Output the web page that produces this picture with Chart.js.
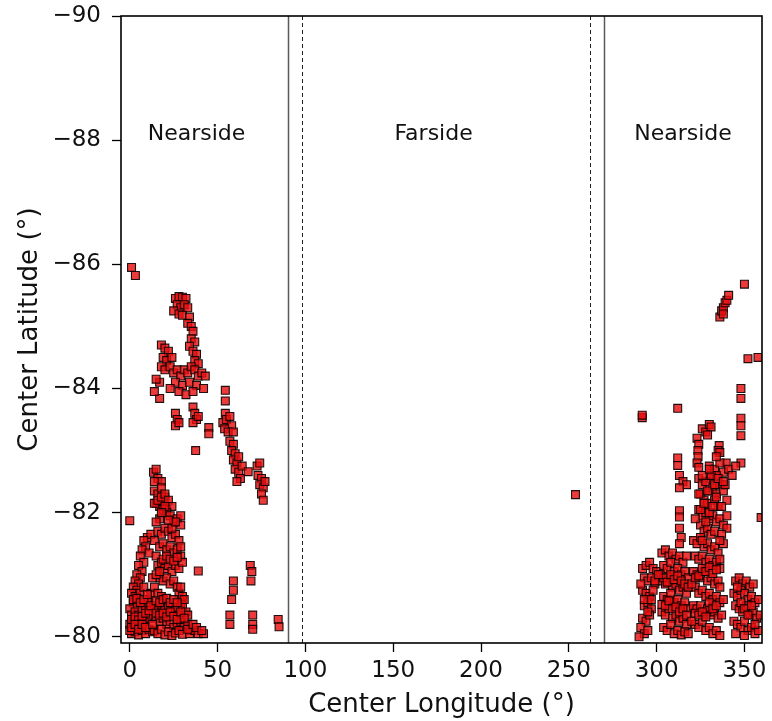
<!DOCTYPE html>
<html><head><meta charset="utf-8">
<script src="https://cdn.jsdelivr.net/npm/chart.js@4/dist/chart.umd.min.js"></script>
<style>html,body{margin:0;padding:0;background:#fff}</style>
</head><body>
<canvas id="c" width="772" height="721"></canvas>
<script>
// ---- axis settings ----
const xTicks = [0, 50, 100, 150, 200, 250, 300, 350];
const yTicks = [-90, -88, -86, -84, -82, -80];
const xTitle = 'Center Longitude (°)';
const yTitle = 'Center Latitude (°)';

// ---- region boundaries and labels ----
const boundaryLon = [90, 270];      // solid lines
const limbLon = [98, 262];          // dashed lines
const regionNames = ['Nearside', 'Farside', 'Nearside'];
const regionLon = [38, 173, 315];
const regionLat = [-88.1, -88.1, -88.1];

// ---- data: west nearside ----
const w1Lon = [1,3.2,26,28,30,32,27,29,31,33,25,28,30,34,33,35,36,35,37,34,36,38,37,39];
const w1Lat = [-85.95,-85.82,-85.45,-85.48,-85.47,-85.45,-85.35,-85.3,-85.35,-85.3,-85.25,-85.2,-85.18,-85.15,-85.05,-85.0,-84.92,-84.8,-84.75,-84.68,-84.6,-84.55,-84.45,-84.4];

const w2Lon = [18,20,22,19,21,24, 18,20,23,25,27,29, 31,33,35,37,39,41, 43,26,30,34,38,17, 15,42,28,32,36,23];
const w2Lat = [-84.7,-84.65,-84.6,-84.5,-84.45,-84.5, -84.35,-84.3,-84.35,-84.25,-84.3,-84.2, -84.3,-84.25,-84.35,-84.3,-84.2,-84.25, -84.2,-84.1,-84.05,-84.1,-84.05,-84.1, -84.15,-84.0,-83.95,-83.9,-83.95,-84.0];

const w3Lon = [17,14, 26,27,26,28, 36,37,38,36,39, 45,45, 37.5, 54.4,54.4,54.4, 0];
const w3Lat = [-83.84,-83.95, -83.6,-83.5,-83.4,-83.45, -83.7,-83.6,-83.5,-83.45,-83.55, -83.37,-83.27, -83.0, -83.97,-83.8,-83.6, -81.87];

const w4Lon = [53,55,57,58,54,56, 59,57,59,58,60,59, 61,62,60,62,63,61, 64, 67.4, 72.5,74,73,75,74,76, 75,77,76];
const w4Lat = [-83.45,-83.5,-83.55,-83.4,-83.35,-83.3, -83.3,-83.15,-83.1,-83.0,-82.95,-82.85, -82.8,-82.9,-82.7,-82.65,-82.55,-82.5, -82.75, -82.66, -82.75,-82.8,-82.6,-82.55,-82.45,-82.4, -82.3,-82.5,-82.2];

const w5Lon = [13.5,15,16,18,14, 14,16,18,20,15, 17,19,21];
const w5Lat = [-82.65,-82.7,-82.55,-82.5,-82.5, -82.35,-82.3,-82.4,-82.25,-82.15, -82.1,-82.2,-82.05];

const w6Lon = [10,12,8, 9,7,11,6,8,5, 7,4,6,3,5,2, 4,1,3,6,8,2, 4,0,1,3,5,7, 9,11,0,2,4,6, 8,10,12,1,3,5, 7,9,11,13,0,10, 12];
const w6Lat = [-81.6,-81.65,-81.55, -81.45,-81.4,-81.35,-81.3,-81.2,-81.15, -81.05,-81.0,-80.95,-80.9,-80.85,-80.8, -80.75,-80.7,-80.65,-80.7,-80.8,-80.55, -80.5,-80.45,-80.35,-80.4,-80.35,-80.45, -80.5,-80.55,-80.2,-80.25,-80.15,-80.2, -80.25,-80.3,-80.35,-80.05,-80.08,-80.03, -80.1,-80.05,-80.12,-80.08,-80.1,-80.6, -80.7];

const w7Lon = [14,16,18,20,22,24, 19,21,23,17,15,25, 27,29,29,16,18,20, 22,24,26,28,14,17, 19,21,23,25,27,29, 15,16,18,20,22,24, 26,28,30,17,19,21, 23,25,27,14,16,18, 28,29];
const w7Lat = [-82.15,-82.2,-82.25,-82.3,-82.2,-82.1, -82.05,-82.0,-81.95,-81.9,-81.85,-81.85, -81.9,-81.95,-81.8,-81.7,-81.65,-81.75, -81.7,-81.6,-81.65,-81.55,-81.55,-81.45, -81.5,-81.4,-81.45,-81.35,-81.4,-81.3, -81.3,-81.15,-81.2,-81.1,-81.15,-81.05, -81.15,-81.1,-81.2,-80.95,-80.9,-80.95, -80.85,-80.9,-80.8,-80.8,-80.7,-80.65, -80.7,-80.55];

const w8Lon = [14,16,18,20,22,24, 26,28,30,32,15,17, 19,21,23,25,27,29, 31,33,35,14,16,18, 20,22,24,26,28,30, 34,37,39,42,30,31, 29,33,39];
const w8Lat = [-80.5,-80.45,-80.4,-80.45,-80.5,-80.4, -80.45,-80.35,-80.5,-80.4,-80.3,-80.25, -80.3,-80.2,-80.25,-80.15,-80.2,-80.25, -80.15,-80.2,-80.1,-80.1,-80.05,-80.12, -80.03,-80.08,-80.02,-80.06,-80.1,-80.04, -80.05,-80.1,-80.05,-80.05,-80.65,-80.6, -80.8,-80.35,-81.06];

const w9Lon = [59,59,58,57,57,68.6,69.5,69,70,70,70,84.5,85];
const w9Lat = [-80.9,-80.75,-80.6,-80.35,-80.2,-81.15,-81.05,-80.9,-80.35,-80.2,-80.12,-80.28,-80.16];

const w10Lon = [1,3,5,7,9,11, 2,4,6,8,10,12, 1,3,5,7,9,13, 15,17,19,21,23,25, 27,15,17,19,21,23, 25,27,29,13,15,17, 19,21,23,25,27,29, 31,33,36,38,41,24, 26,22,20,18];
const w10Lat = [-80.28,-80.32,-80.27,-80.33,-80.38,-80.42, -80.6,-80.62,-80.55,-80.6,-80.68,-80.5, -80.15,-80.2,-80.12,-80.2,-80.15,-80.2, -80.38,-80.35,-80.38,-80.32,-80.4,-80.33, -80.28,-80.58,-80.55,-80.6,-80.62,-80.55, -80.6,-80.55,-80.4,-80.95,-81.0,-81.05, -81.25,-81.3,-81.25,-81.22,-81.28,-81.45, -80.3,-80.12,-80.2,-80.15,-80.1,-81.75, -81.85,-81.88,-82.1,-82.0];

// ---- data: farside ----
const fLon = [253.8];
const fLat = [-82.29];

// ---- data: east nearside ----
const e1Lon = [350,336,337,338,339,340, 341,338,352,357.7,348,348, 291.8,291.8,312,348,348,348, 326,328,330,331,329,323, 324,323.5,335.6,335,336,312, 312,323.6,323,324,339.6,348];
const e1Lat = [-85.68,-85.15,-85.25,-85.3,-85.38,-85.42, -85.5,-85.2,-84.48,-84.5,-84.0,-83.84, -83.53,-83.57,-83.68,-83.52,-83.4,-83.24, -83.35,-83.3,-83.42,-83.38,-83.25,-83.2, -83.1,-83.0,-83.08,-83.0,-82.97,-82.88, -82.76,-82.9,-82.8,-82.73,-82.8,-82.8];

const e2Lon = [330,333,336,338,341,343, 345,331,334,313,315,317, 313,324,326,328,330,332, 334,336,338,340,325,327, 329,333,335,313,313,324, 326,328,330,332,334,336, 338,340,325,327,329,331, 333,337,359.5,313,314,313];
const e2Lat = [-82.75,-82.7,-82.8,-82.65,-82.7,-82.6, -82.75,-82.55,-82.6,-82.6,-82.5,-82.45, -82.4,-82.55,-82.45,-82.5,-82.35,-82.4, -82.3,-82.45,-82.35,-82.2,-82.3,-82.2, -82.15,-82.2,-82.1,-82.03,-81.93,-82.05, -81.95,-82.0,-81.9,-81.95,-81.85,-81.9, -81.8,-81.75,-81.8,-81.7,-81.75,-81.65, -81.7,-81.65,-81.92,-81.75,-81.6,-81.5];

const e3Lon = [292,294,296,298,300,293, 295,297,299,292,294,296, 298,293,295,297,292,294, 296,291,293,290,295];
const e3Lat = [-81.1,-81.15,-81.2,-81.1,-81.05,-80.95, -80.9,-80.95,-80.85,-80.75,-80.7,-80.65, -80.75,-80.5,-80.55,-80.45,-80.3,-80.25, -80.35,-80.15,-80.05,-80.0,-80.1];

const e4Lon = [303,305,307,309,311,313, 315,317,304,306,308,310, 312,314,316,318,303,305, 307,309,311,313,315,317, 304,306,308,310,312,314, 316,318,303,305,307,309, 311,313,315,317,304,306, 308,310,312,314,316,318];
const e4Lat = [-81.35,-81.4,-81.3,-81.35,-81.25,-81.3, -81.2,-81.3,-81.15,-81.1,-81.2,-81.05, -81.1,-81.0,-81.05,-80.95,-80.9,-80.85, -80.95,-80.8,-80.85,-80.75,-80.8,-80.7, -80.65,-80.6,-80.7,-80.55,-80.6,-80.5, -80.55,-80.45,-80.4,-80.35,-80.45,-80.3, -80.35,-80.25,-80.3,-80.2,-80.15,-80.1, -80.2,-80.05,-80.1,-80.03,-80.08,-80.05];

const e5Lon = [321,323,325,327,329,331, 333,335,322,324,326,328, 330,332,334,336,321,323, 325,327,329,331,333,335, 322,324,326,328,330,332, 334,336,321,323,325,327, 329,331,333,335,337,322, 324,326,328,330,332,334, 336];
const e5Lat = [-81.55,-81.5,-81.6,-81.45,-81.5,-81.4, -81.45,-81.35,-81.3,-81.25,-81.3,-81.2, -81.25,-81.15,-81.2,-81.1,-81.05,-81.0, -80.95,-81.05,-80.9,-80.95,-80.85,-80.9, -80.8,-80.7,-80.75,-80.65,-80.7,-80.6, -80.65,-80.55,-80.5,-80.45,-80.5,-80.4, -80.45,-80.35,-80.4,-80.3,-80.35,-80.2, -80.15,-80.25,-80.1,-80.15,-80.05,-80.1, -80.02];

const e6Lon = [345,347,349,351,353,355, 344,346,348,350,352,354, 356,358,345,347,349,351, 353,355,357,359,344,346, 348,350,352,354,356,358, 345,350];
const e6Lat = [-80.9,-80.95,-80.85,-80.9,-80.8,-80.85, -80.7,-80.65,-80.75,-80.7,-80.6,-80.65, -80.55,-80.6,-80.5,-80.45,-80.4,-80.5, -80.35,-80.4,-80.3,-80.35,-80.25,-80.2, -80.15,-80.25,-80.1,-80.15,-80.05,-80.1, -80.05,-80.02];

const e7Lon = [302,304,306,308,310,312, 314,316,318,303,305,307, 309,311,313,315,317,320, 322,324,326,328,330,332, 334,336,338,320,322,324, 326,328,330,332,334,336, 291,293,295,297,299,301, 346,348,350,352,354,356, 326,330,334,338];
const e7Lat = [-81.0,-80.95,-80.88,-81.0,-80.92,-80.98, -80.9,-80.85,-80.8,-80.52,-80.5,-80.58, -80.45,-80.48,-80.4,-80.45,-80.35,-80.25, -80.38,-80.35,-80.4,-80.32,-80.55,-80.45, -80.5,-80.8,-80.6,-80.85,-80.95,-80.98, -81.1,-81.05,-81.12,-81.02,-81.08,-81.25, -80.85,-80.6,-80.4,-80.6,-80.9,-81.0, -80.8,-80.55,-80.45,-80.35,-80.5,-80.2, -82.6,-82.0,-82.25,-81.5];

const e8Lon = [325,327,329,331,333,335, 337,339,326,328,332,336, 322,324,330,334,338,340];
const e8Lat = [-82.05,-82.15,-82.35,-82.6,-82.45,-82.55, -82.1,-82.45,-81.55,-81.85,-82.1,-81.55, -81.9,-82.3,-82.7,-82.9,-82.5,-81.95];

// ---- assemble ----
const lonGroups = [w1Lon,w2Lon,w3Lon,w4Lon,w5Lon,w6Lon,w7Lon,w8Lon,w9Lon,w10Lon,fLon,e1Lon,e2Lon,e3Lon,e4Lon,e5Lon,e6Lon,e7Lon,e8Lon];
const latGroups = [w1Lat,w2Lat,w3Lat,w4Lat,w5Lat,w6Lat,w7Lat,w8Lat,w9Lat,w10Lat,fLat,e1Lat,e2Lat,e3Lat,e4Lat,e5Lat,e6Lat,e7Lat,e8Lat];
const points = [];
lonGroups.forEach((g, gi) => g.forEach((x, i) => points.push({x: x, y: latGroups[gi][i]})));

const FONT = '"DejaVu Sans", "Liberation Sans", sans-serif';
const minus = v => (v < 0 ? '\u2212' : '') + Math.abs(v);

const overlay = {
  id: 'overlay',
  beforeDatasetsDraw(chart) {
    const {ctx, chartArea: a, scales: {x, y}} = chart;
    ctx.save();
    ctx.beginPath(); ctx.rect(a.left, a.top, a.right - a.left, a.bottom - a.top); ctx.clip();
    ctx.strokeStyle = '#5a5a5a'; ctx.lineWidth = 1.5; ctx.setLineDash([]);
    boundaryLon.forEach(v => { const px = Math.round(x.getPixelForValue(v)) + 0.5; ctx.beginPath(); ctx.moveTo(px, a.top); ctx.lineTo(px, a.bottom); ctx.stroke(); });
    ctx.strokeStyle = '#222'; ctx.lineWidth = 1; ctx.setLineDash([4, 3]);
    limbLon.forEach(v => { const px = Math.round(x.getPixelForValue(v)) + 0.5; ctx.beginPath(); ctx.moveTo(px, a.top); ctx.lineTo(px, a.bottom); ctx.stroke(); });
    ctx.setLineDash([]);
    ctx.fillStyle = '#111'; ctx.font = '22px ' + FONT; ctx.textAlign = 'center'; ctx.textBaseline = 'middle';
    regionNames.forEach((t, i) => ctx.fillText(t, x.getPixelForValue(regionLon[i]), y.getPixelForValue(regionLat[i])));
    ctx.restore();
  },
  afterDraw(chart) {
    const {ctx, chartArea: a} = chart;
    ctx.save(); ctx.strokeStyle = '#000'; ctx.lineWidth = 1.6;
    ctx.strokeRect(a.left, a.top, a.right - a.left, a.bottom - a.top);
    ctx.restore();
  }
};

new Chart(document.getElementById('c'), {
  type: 'scatter',
  data: {datasets: [{
    data: points, pointStyle: 'rect', pointRadius: 5.6, pointHoverRadius: 5.6,
    backgroundColor: 'rgba(232,16,16,0.82)', borderColor: 'rgba(10,0,0,0.9)', borderWidth: 1.1
  }]},
  options: {
    responsive: false, animation: false, events: [],
    layout: {padding: {left: 0, right: 10, top: 16, bottom: 0}},
    plugins: {legend: {display: false}, tooltip: {enabled: false}},
    scales: {
      x: {
        type: 'linear', min: -5, max: 360,
        afterBuildTicks: s => { s.ticks = xTicks.map(v => ({value: v})); },
        afterFit: s => { s.height = 78; s.paddingLeft = 0; s.paddingRight = 0; },
        ticks: {color: '#111', font: {family: FONT, size: 23}, padding: 5, maxRotation: 0, autoSkip: false},
        grid: {display: true, drawOnChartArea: false, drawTicks: true, tickLength: 9, tickColor: '#000', tickWidth: 1.3},
        border: {display: false},
        title: {display: true, text: xTitle, color: '#111', font: {family: FONT, size: 26}, padding: {top: 0, bottom: 0}}
      },
      y: {
        type: 'linear', min: -90, max: -79.9, reverse: true,
        afterBuildTicks: s => { s.ticks = yTicks.map(v => ({value: v})); },
        afterFit: s => { s.width = 121; s.paddingTop = 0; s.paddingBottom = 0; },
        ticks: {color: '#111', font: {family: FONT, size: 23}, padding: 11, callback: v => minus(v), autoSkip: false},
        grid: {display: true, drawOnChartArea: false, drawTicks: true, tickLength: 9, tickColor: '#000', tickWidth: 1.3},
        border: {display: false},
        title: {display: true, text: yTitle, color: '#111', font: {family: FONT, size: 26}, padding: {top: 15, bottom: 0}}
      }
    }
  },
  plugins: [overlay]
});
</script>
</body></html>
